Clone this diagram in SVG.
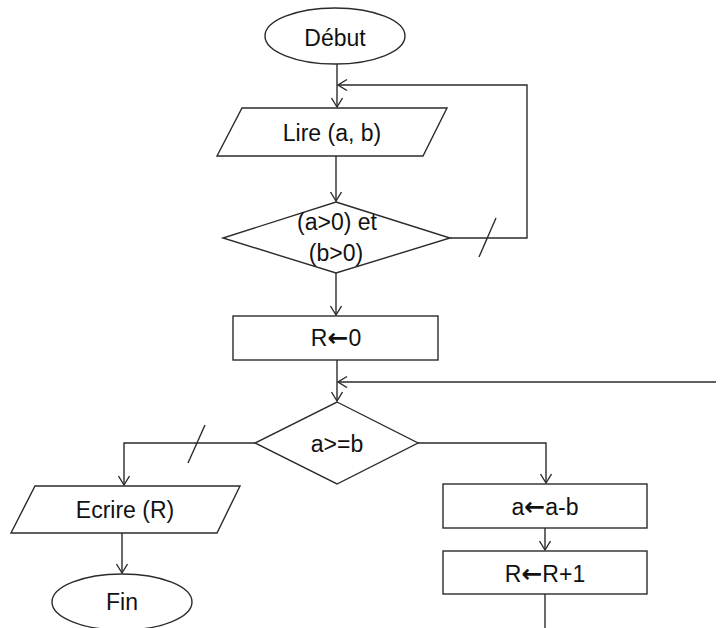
<svg xmlns="http://www.w3.org/2000/svg" width="722" height="628" viewBox="0 0 722 628">
<defs>
<style>
.s{fill:#fff;stroke:#2b2b2b;stroke-width:1.4}
.c{fill:none;stroke:#2b2b2b;stroke-width:1.4}
.t{font-family:"Liberation Sans",Arial,sans-serif;font-size:23px;fill:#111;text-anchor:middle}
.a{font-family:"DejaVu Sans",sans-serif;font-weight:bold;font-size:25px}
</style>
<marker id="ah" markerUnits="userSpaceOnUse" markerWidth="14" markerHeight="14" refX="10" refY="6" orient="auto">
<path d="M1,0.5 L10,6 L1,11.5" fill="none" stroke="#2b2b2b" stroke-width="1.4"/>
</marker>
</defs>
<rect width="722" height="628" fill="#fff"/>
<g id="connectors">
<line class="c" x1="337" y1="64" x2="337" y2="107" marker-end="url(#ah)"/>
<polyline class="c" points="450,238 527,238 527,85 338,85" marker-end="url(#ah)"/>
<line class="c" x1="496" y1="218" x2="479" y2="257"/>
<line class="c" x1="336" y1="156" x2="336" y2="201" marker-end="url(#ah)"/>
<line class="c" x1="336" y1="273" x2="336" y2="315" marker-end="url(#ah)"/>
<line class="c" x1="337" y1="360" x2="337" y2="401" marker-end="url(#ah)"/>
<line class="c" x1="716" y1="382" x2="338" y2="382" marker-end="url(#ah)"/>
<polyline class="c" points="255,443 124,443 124,485" marker-end="url(#ah)"/>
<line class="c" x1="205" y1="425" x2="188" y2="463"/>
<polyline class="c" points="418,443 546,443 546,483" marker-end="url(#ah)"/>
<line class="c" x1="122" y1="533" x2="122" y2="573" marker-end="url(#ah)"/>
<line class="c" x1="545" y1="528" x2="545" y2="550" marker-end="url(#ah)"/>
<line class="c" x1="545" y1="594" x2="545" y2="628"/>
</g>
<g id="debut">
<ellipse class="s" cx="335" cy="36" rx="70" ry="28"/>
<text class="t" x="335" y="46">Début</text>
</g>
<g id="lire">
<polygon class="s" points="242,108 447,108 423,156 217,156"/>
<text class="t" x="332" y="141">Lire (a, b)</text>
</g>
<g id="cond1">
<polygon class="s" points="336,202 450,238 336,273 223,238"/>
<text class="t" x="337" y="230">(a&gt;0) et</text>
<text class="t" x="336" y="261">(b&gt;0)</text>
</g>
<g id="r0">
<rect class="s" x="233" y="316" width="205" height="44"/>
<text class="t" x="336" y="346">R<tspan class="a">←</tspan>0</text>
</g>
<g id="cond2">
<polygon class="s" points="337,402 418,443 337,484 255,443"/>
<text class="t" x="337" y="452">a&gt;=b</text>
</g>
<g id="ecrire">
<polygon class="s" points="35,486 240,486 217,533 11,533"/>
<text class="t" x="125" y="518">Ecrire (R)</text>
</g>
<g id="fin">
<ellipse class="s" cx="122" cy="602" rx="70" ry="28"/>
<text class="t" x="122" y="610">Fin</text>
</g>
<g id="sub">
<rect class="s" x="443" y="484" width="204" height="44"/>
<text class="t" x="545" y="515">a<tspan class="a">←</tspan>a-b</text>
</g>
<g id="inc">
<rect class="s" x="443" y="551" width="204" height="43"/>
<text class="t" x="545" y="582">R<tspan class="a">←</tspan>R+1</text>
</g>
</svg>
